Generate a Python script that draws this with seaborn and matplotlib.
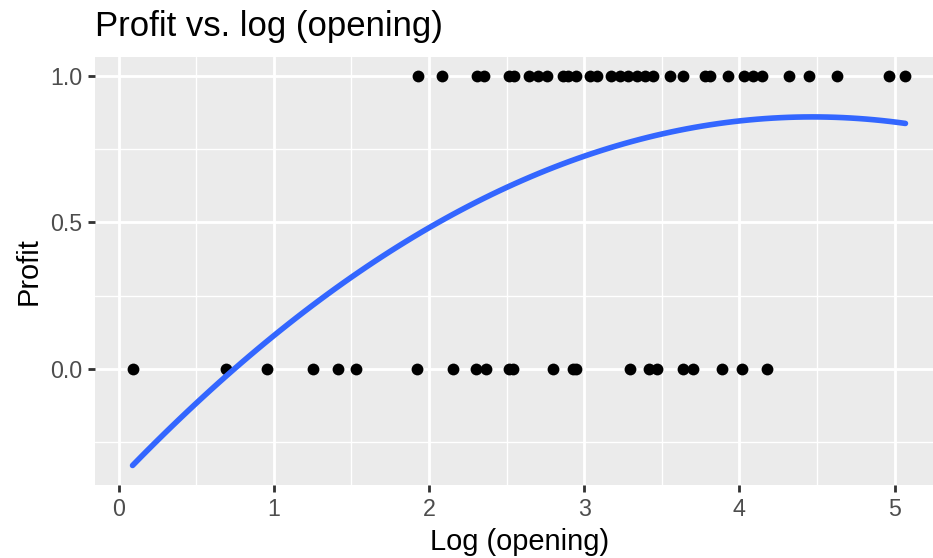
import numpy as np
import pandas as pd
import matplotlib
matplotlib.use("Agg")
import matplotlib.pyplot as plt
import seaborn as sns
from matplotlib.ticker import MultipleLocator

# log(opening) values, split by profit outcome
log_open_profit = [1.931, 2.082, 2.307, 2.356, 2.517, 2.548, 2.646, 2.705, 2.758,
                   2.861, 2.898, 2.947, 3.037, 3.085, 3.173, 3.231, 3.284, 3.338,
                   3.392, 3.445, 3.553, 3.639, 3.778, 3.810, 3.929, 4.030, 4.090,
                   4.144, 4.322, 4.447, 4.627, 4.962, 5.069]
log_open_loss = [0.095, 0.692, 0.954, 1.255, 1.414, 1.530, 1.925, 2.152, 2.303,
                 2.367, 2.517, 2.543, 2.797, 2.926, 2.947, 3.295, 3.420, 3.470,
                 3.635, 3.703, 3.890, 4.015, 4.180]

# smoothed trend
curve_x = [0.09, 0.5, 1.0, 1.5, 2.0, 2.5, 3.0, 3.5, 4.0, 4.5, 5.07]
curve_y = [-0.32, -0.13, 0.11, 0.32, 0.48, 0.625, 0.727, 0.80, 0.843, 0.861, 0.839]

df = pd.DataFrame({
    "log_opening": log_open_profit + log_open_loss,
    "profit": [1] * len(log_open_profit) + [0] * len(log_open_loss),
})
trend = pd.DataFrame({"x": curve_x, "y": curve_y})

sns.set_theme(style="darkgrid")
plt.rcParams["font.family"] = ["Liberation Sans", "DejaVu Sans"]

fig = plt.figure(figsize=(933 / 190, 558 / 190), dpi=190)
ax = fig.add_axes([95 / 933, 73 / 558, 848.6 / 933, 428 / 558])
ax.set_facecolor("#EBEBEB")

sns.scatterplot(data=df, x="log_opening", y="profit", ax=ax, s=20,
                color="black", linewidth=0)
sns.regplot(data=trend, x="x", y="y", order=2, ci=None, scatter=False, ax=ax,
            line_kws={"color": "#3366FF", "linewidth": 2.13})

ax.set_xlim(-0.152, 5.316)
ax.set_ylim(-0.396, 1.0648)
ax.xaxis.set_major_locator(MultipleLocator(1))
ax.xaxis.set_minor_locator(MultipleLocator(0.5))
ax.set_yticks([0, 0.5, 1.0])
ax.set_yticklabels(["0.0", "0.5", "1.0"])
ax.yaxis.set_minor_locator(MultipleLocator(0.25))

ax.grid(which="major", color="white", linewidth=1.07)
ax.grid(which="minor", color="white", linewidth=0.53)
ax.set_axisbelow(True)
for s in ax.spines.values():
    s.set_visible(False)

ax.tick_params(which="major", length=2.75, width=1.07, color="#333333",
               labelsize=8.8, labelcolor="#4D4D4D", pad=2.2,
               bottom=True, left=True)
ax.tick_params(which="minor", length=0)

ax.set_xlabel("Log (opening)", fontsize=11, color="black", labelpad=2.75)
ax.set_ylabel("Profit", fontsize=11, color="black", labelpad=2.75)
ax.set_title("Profit vs. log (opening)", loc="left", fontsize=13.2,
             color="black", pad=8)

fig.savefig("out.png", dpi=190)
